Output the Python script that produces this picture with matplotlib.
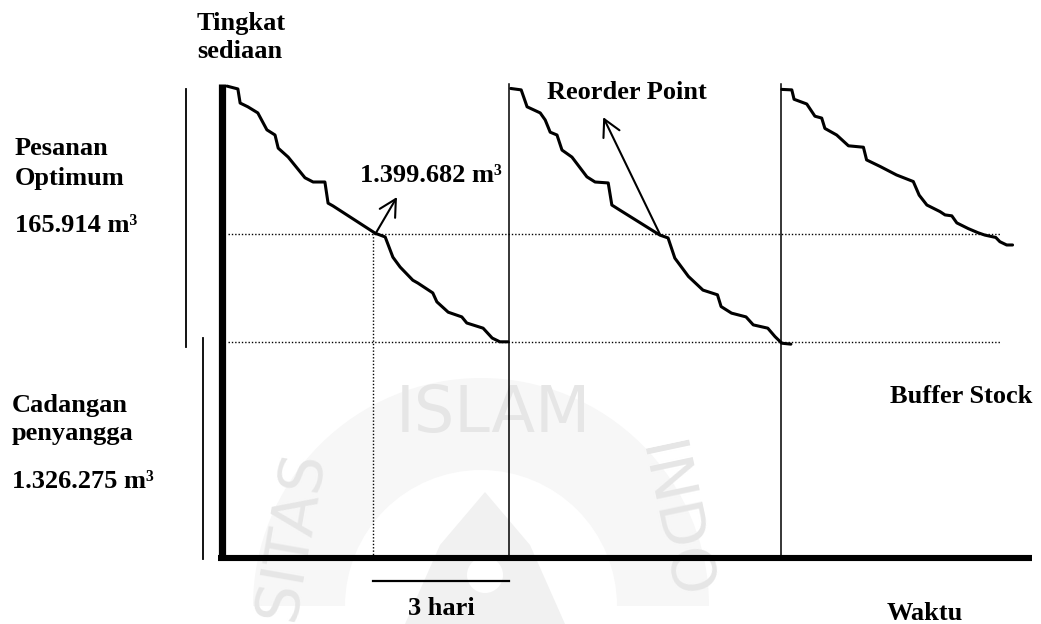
import matplotlib
matplotlib.use("Agg")
import matplotlib.pyplot as plt
from matplotlib.patches import Wedge, Polygon, Circle

# ── Diagram values (time in days, stock level in % of maximum) ─────────
CYCLE_START = [0.0, 6.33, 12.33]      # order arrivals
LEAD_TIME = 3                          # "3 hari"
MAX_LEVEL = 100.9
REORDER_LEVEL = 68.9
BUFFER_LEVEL = 46.0
TIME_END = 17.87

cycle1_t = [0.11, 0.35, 0.40, 0.57, 0.79, 0.99, 1.17, 1.24, 1.46, 1.83, 2.01, 2.27,
            2.34, 2.45, 3.38, 3.60, 3.77, 3.93, 4.21, 4.32, 4.65, 4.74, 4.99, 5.29,
            5.40, 5.76, 5.96, 6.13, 6.31]
cycle1_lvl = [100.4, 99.8, 96.8, 96.0, 94.7, 91.1, 90.0, 87.2, 85.3, 80.9, 80.0, 80.0,
              75.5, 74.9, 69.1, 68.3, 64.0, 61.9, 59.1, 58.5, 56.4, 54.5, 52.3, 51.3,
              50.0, 48.9, 46.8, 46.0, 46.0]

cycle2_t = [6.37, 6.60, 6.68, 6.73, 7.02, 7.13, 7.24, 7.39, 7.50, 7.72, 8.05, 8.23,
            8.52, 8.60, 8.78, 9.66, 9.84, 9.99, 10.29, 10.61, 10.93, 11.01, 11.24,
            11.56, 11.72, 12.04, 12.20, 12.35, 12.55]
cycle2_lvl = [99.9, 99.6, 97.4, 96.0, 94.7, 93.2, 90.6, 90.0, 86.8, 85.3, 81.1, 80.0,
              79.8, 75.1, 74.0, 68.7, 68.1, 63.8, 59.9, 57.0, 56.0, 53.5, 52.1,
              51.3, 49.6, 48.9, 47.1, 45.7, 45.5]

cycle3_t = [12.35, 12.57, 12.62, 12.90, 13.08, 13.23, 13.30, 13.56, 13.82, 14.15,
            14.22, 14.52, 14.88, 15.25, 15.38, 15.55, 15.84, 15.95, 16.10, 16.21,
            16.46, 16.68, 16.83, 17.07, 17.16, 17.31, 17.44]
cycle3_lvl = [99.7, 99.6, 97.6, 96.6, 94.0, 93.6, 91.4, 90.0, 87.7, 87.4,
              84.7, 83.3, 81.5, 80.1, 77.2, 75.1, 73.7, 73.0, 72.8, 71.3,
              70.1, 69.2, 68.7, 68.2, 67.3, 66.6, 66.6]

guide_t = [0.13, 17.17]                # extent of the dotted guide lines

# ── Figure setup: one axes filling the scanned page ───────────────────
W, H = 1041, 624
PX_PER_DAY, PX_PER_LVL = 45.33, 4.7
X0, Y0 = 222, 558                      # pixel position of the origin

fig = plt.figure(figsize=(W / 100, H / 100), dpi=100)
fig.patch.set_facecolor("white")

# faint university watermark behind the drawing
wm = fig.add_axes([0, 0, 1, 1], zorder=0)
wm.set_xlim(0, W)
wm.set_ylim(H, 0)
wm.axis("off")
wm.add_patch(Wedge((481, 606), 228, 180, 360, width=92, color="#f7f7f7", lw=0))
wm.add_patch(Polygon([(485, 492), (530, 545), (565, 624), (405, 624), (440, 545)],
                     closed=True, color="#f1f1f1", lw=0))
wm.add_patch(Circle((485, 575), 18, color="white", lw=0))
wm.text(493, 414, "ISLAM", fontsize=46, color="#e6e6e6", ha="center", va="center",
        family="DejaVu Sans")
wm.text(292, 535, "SITAS", fontsize=44, color="#e6e6e6", ha="center", va="center",
        rotation=80, family="DejaVu Sans")
wm.text(672, 522, "INDO", fontsize=44, color="#e6e6e6", ha="center", va="center",
        rotation=-78, family="DejaVu Sans")

ax = fig.add_axes([0, 0, 1, 1], zorder=1)
ax.patch.set_alpha(0)
ax.set_xlim(-X0 / PX_PER_DAY, (W - X0) / PX_PER_DAY)
ax.set_ylim((Y0 - H) / PX_PER_LVL, Y0 / PX_PER_LVL)
ax.axis("off")

ink = "black"
dots = (0, (1.0, 1.4))

# axes of the diagram
ax.plot([0, 0], [-0.5, MAX_LEVEL], color=ink, lw=5.2, solid_capstyle="butt")
ax.plot([-0.09, TIME_END], [0, 0], color=ink, lw=4.4, solid_capstyle="butt")

# order arrival verticals
for t0 in CYCLE_START[1:]:
    ax.plot([t0, t0], [0, MAX_LEVEL], color=ink, lw=1.1)

# reorder point / buffer stock guides
ax.plot(guide_t, [REORDER_LEVEL] * 2, color=ink, lw=1.0, ls=dots)
ax.plot(guide_t, [BUFFER_LEVEL] * 2, color=ink, lw=1.0, ls=dots)
reorder_t = CYCLE_START[1] - LEAD_TIME
ax.plot([reorder_t, reorder_t], [0, REORDER_LEVEL], color=ink, lw=1.0, ls=dots)

# stock level curves
for ts, ls_ in [(cycle1_t, cycle1_lvl), (cycle2_t, cycle2_lvl), (cycle3_t, cycle3_lvl)]:
    ax.plot(ts, ls_, color=ink, lw=2.2, solid_joinstyle="round", solid_capstyle="round")

# brackets on the left
ax.plot([-0.79, -0.79], [BUFFER_LEVEL - 1.1, 99.8], color=ink, lw=1.3)
ax.plot([-0.42, -0.42], [-0.2, BUFFER_LEVEL + 0.8], color=ink, lw=1.3)

# lead time scale bar
ax.plot([reorder_t, CYCLE_START[1]], [-4.9, -4.9], color=ink, lw=1.6)

# arrows pointing at the reorder points
arrow = dict(arrowstyle="->,head_length=0.6,head_width=0.32", color=ink, lw=1.5,
             mutation_scale=20, shrinkA=0, shrinkB=0)
ax.annotate("", xy=(3.86, 76.8), xytext=(3.38, REORDER_LEVEL), arrowprops=arrow)
ax.annotate("", xy=(8.41, 93.8), xytext=(9.66, REORDER_LEVEL), arrowprops=arrow)

# ── Labels (positions in page pixels) ─────────────────────────────────
font = dict(family="Liberation Serif", fontweight="bold", fontsize=19, color=ink,
            va="baseline", ha="left")


def label(px, py, s):
    fig.text(px / W, 1 - py / H, s, **font)


label(197, 30, "Tingkat")
label(197, 58, "sediaan")
label(15, 155, "Pesanan")
label(15, 185, "Optimum")
label(15, 232, "165.914 m³")
label(360, 182, "1.399.682 m³")
label(547, 99, "Reorder Point")
label(12, 412, "Cadangan")
label(12, 440, "penyangga")
label(12, 488, "1.326.275 m³")
label(890, 403, "Buffer Stock")
label(408, 615, "3 hari")
label(887, 620, "Waktu")

plt.savefig("out.png", dpi=100)
